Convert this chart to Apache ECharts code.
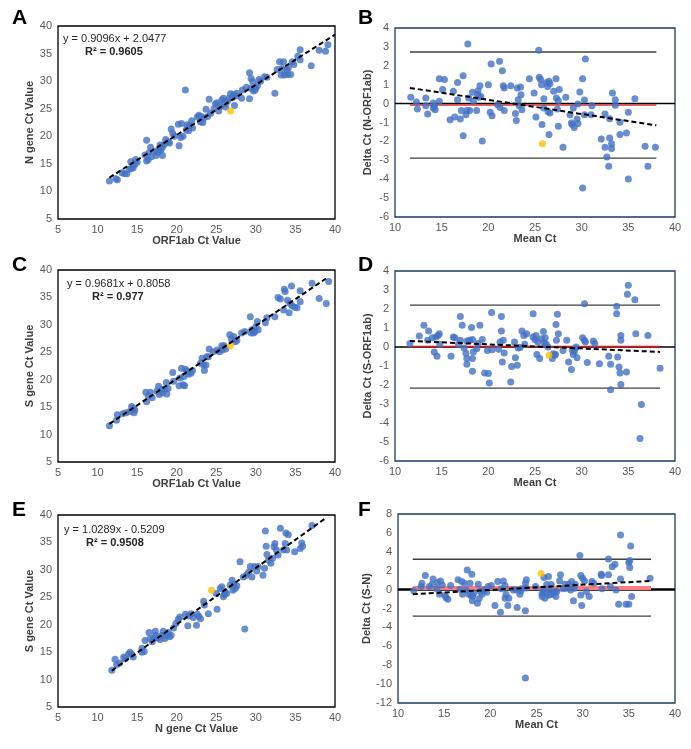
<!DOCTYPE html>
<html>
<head>
<meta charset="utf-8">
<script src="https://cdn.jsdelivr.net/npm/echarts@6/dist/echarts.min.js"></script>
<style>
html,body{margin:0;padding:0;background:#fff;}
#chart{width:691px;height:749px;}
</style>
</head>
<body>
<div id="chart"></div>
<script>
// ---- panel A : N gene vs ORF1ab
var aPts = [[11.5,11.9],[12.3,12.3],[12.5,12.1],[13.1,13.4],[13.4,13.2],[13.7,13.2],[14.0,14.0],[14.2,15.4],[14.3,14.2],[14.5,14.3],[14.7,14.9],[14.8,15.8],[15.0,15.3],[16.0,16.6],[16.2,19.3],[16.2,15.5],[16.4,15.8],[16.5,17.0],[16.7,18.0],[16.8,16.3],[17.2,17.3],[17.4,16.5],[17.6,17.1],[17.8,17.6],[17.9,18.4],[18.0,17.5],[18.2,16.5],[18.2,18.0],[18.4,18.5],[18.6,19.4],[18.9,19.0],[19.1,18.8],[19.3,21.3],[19.5,20.5],[19.7,20.0],[20.2,22.2],[20.3,18.3],[20.5,19.8],[20.6,22.3],[20.8,20.0],[21.1,28.4],[21.2,21.2],[21.3,22.1],[21.5,21.0],[21.6,21.9],[21.9,22.8],[22.0,21.5],[22.6,23.5],[22.8,23.8],[23.0,22.6],[23.1,23.6],[23.3,22.5],[23.4,23.3],[23.7,24.9],[23.9,23.6],[24.1,26.7],[24.3,24.2],[24.7,25.0],[24.9,25.9],[25.1,26.1],[25.3,24.6],[25.5,25.4],[25.7,26.6],[25.9,26.9],[26.0,25.9],[26.2,25.3],[26.4,26.3],[26.6,26.9],[26.8,27.7],[27.0,27.0],[27.2,27.6],[27.3,25.6],[27.5,27.3],[27.6,27.8],[28.2,26.9],[28.3,28.4],[28.8,28.9],[29.2,31.5],[29.2,26.8],[29.4,30.5],[29.4,28.7],[29.6,29.9],[29.7,28.2],[29.9,28.4],[30.0,28.8],[30.2,29.2],[30.4,30.3],[30.6,30.0],[31.1,30.8],[31.4,30.7],[32.4,27.8],[32.7,32.1],[33.0,33.5],[33.2,31.1],[33.3,32.3],[33.5,33.5],[33.6,31.1],[33.9,32.1],[34.0,31.2],[34.1,32.4],[34.4,31.2],[34.6,33.5],[34.8,33.0],[35.3,34.5],[35.6,35.7],[35.6,33.9],[37.0,32.8],[38.0,35.6],[38.8,35.4],[39.1,36.6]];
var aOrange = [[26.8,24.6]];
var aFit = [[11.5,12.51],[40,38.43]];
var aText = ['y = 0.9096x + 2.0477', 'R² = 0.9605'];

// ---- panel B : Bland-Altman N - ORF1ab
var bPts = [[11.7,0.33],[12.3,0.08],[12.4,-0.29],[13.3,0.30],[13.3,-0.11],[13.5,-0.55],[14.1,0.03],[14.1,-0.23],[14.3,-0.32],[14.2,-0.15],[14.75,1.32],[14.75,0.12],[15.1,0.74],[15.3,1.27],[15.9,-0.85],[16.25,0.65],[16.4,-0.71],[16.7,1.12],[16.7,0.2],[17.0,-0.81],[17.1,-0.37],[17.3,1.48],[17.3,-1.7],[17.6,-0.59],[17.7,-0.37],[17.8,3.15],[17.9,0.3],[18.0,-0.37],[18.3,0.6],[18.4,0.12],[18.75,-0.37],[18.85,0.5],[18.9,0.68],[19.0,0.33],[19.1,0.95],[19.2,0.38],[19.35,-1.98],[20.0,1.0],[20.2,-0.46],[20.3,2.1],[20.4,-0.64],[21.0,-0.06],[21.2,2.24],[21.25,-0.2],[21.5,1.74],[21.6,0.95],[21.7,0.83],[21.7,-0.36],[22.4,0.95],[22.9,-0.53],[23.0,-0.89],[23.1,0.83],[23.2,0.2],[23.3,-0.11],[23.45,0.88],[23.5,0.47],[23.6,-0.32],[24.4,1.32],[24.9,0.56],[25.1,-0.71],[25.4,2.82],[25.45,1.39],[25.6,1.27],[25.7,1.0],[25.75,-1.11],[25.95,0.26],[25.95,-0.23],[26.25,1.12],[26.35,0.91],[26.4,-0.43],[26.5,1.18],[26.6,-0.5],[26.6,1.05],[26.5,-1.64],[27.0,0.65],[27.25,1.32],[27.3,0.3],[27.4,-0.29],[27.5,0.15],[27.5,-1.2],[27.6,0.74],[28.0,-2.31],[28.3,0.33],[28.75,-0.59],[28.9,-1.03],[29.0,-1.11],[29.1,-0.23],[29.2,-1.26],[29.5,-0.81],[29.6,-1.05],[29.6,-0.02],[29.8,0.61],[30.1,1.32],[30.1,-4.47],[30.3,0.19],[30.4,2.36],[30.3,-0.59],[31.1,-0.11],[31.0,-0.59],[32.1,-1.87],[32.5,-0.55],[32.5,-2.31],[32.7,-2.83],[32.9,-3.32],[33.0,-0.8],[33.0,-1.82],[33.2,-2.12],[33.2,-2.38],[33.3,0.56],[33.6,0.2],[33.6,-0.09],[34.1,-0.99],[34.1,-1.64],[34.8,-1.56],[35.0,-3.99],[35.0,-0.46],[35.7,0.26],[36.8,-2.26],[37.1,-3.32],[37.9,-2.31]];
var bOrange = [[25.8,-2.12]];
var bFit = [[11.6,0.83],[38.0,-1.15]];
var bLimits = [2.73, -2.88];
var bBias = -0.07;
var bSpan = [11.6, 38.0];

// ---- panel C : S gene vs ORF1ab
var cPts = [[11.5,11.6],[12.4,12.6],[12.5,13.6],[13.2,13.8],[13.6,14.0],[14.1,14.2],[14.3,15.1],[14.5,14.8],[14.6,14.0],[14.7,14.5],[16.1,17.7],[16.2,16.0],[16.4,17.0],[16.65,17.7],[16.9,16.7],[17.5,17.9],[17.7,18.8],[17.8,17.3],[18.1,18.2],[18.2,17.6],[18.5,18.3],[18.75,17.4],[18.9,18.4],[18.7,19.5],[19.5,21.3],[19.6,19.7],[20.3,18.9],[20.4,20.3],[20.6,22.1],[20.8,19.1],[20.9,20.6],[21.0,18.9],[21.1,21.9],[21.3,21.6],[21.5,21.0],[21.8,21.2],[22.0,21.7],[23.0,23.0],[23.2,23.9],[23.4,22.7],[23.5,21.7],[23.7,22.7],[23.8,24.2],[24.1,25.6],[24.0,24.2],[24.6,25.1],[25.1,25.4],[25.4,25.1],[25.7,26.2],[25.8,25.4],[26.0,26.2],[26.2,25.6],[26.7,28.2],[26.9,27.4],[27.2,27.9],[27.4,26.9],[27.6,27.2],[28.2,28.5],[28.6,28.8],[29.3,31.5],[29.4,28.5],[29.5,29.1],[29.7,28.5],[29.9,28.8],[30.0,29.7],[30.2,30.6],[30.3,29.1],[31.2,30.4],[31.4,31.3],[32.4,31.5],[32.8,35.0],[33.1,34.7],[33.5,32.7],[33.6,36.5],[33.7,36.1],[34.0,34.5],[34.2,32.2],[34.3,33.9],[34.5,37.1],[34.6,33.5],[34.9,33.2],[35.2,33.1],[35.6,36.2],[35.6,34.2],[37.1,37.6],[38.0,34.8],[38.9,33.9],[39.2,37.9]];
var cOrange = [[26.8,26.2]];
var cFit = [[11.5,11.94],[39.2,38.76]];
var cText = ['y = 0.9681x + 0.8058', 'R² = 0.977'];

// ---- panel D : Bland-Altman S - ORF1ab
var dPts = [[11.6,0.18],[12.6,0.58],[13.1,1.14],[13.5,0.35],[13.6,0.84],[14.0,0.49],[14.2,-0.26],[14.4,0.53],[14.5,-0.49],[14.6,0.6],[14.75,0.70],[14.8,0.14],[16.0,-0.49],[16.25,0.53],[16.4,0.49],[16.8,0.14],[17.0,0.35],[17.0,1.61],[17.2,1.14],[17.4,-0.05],[17.6,-0.33],[17.7,-0.91],[17.7,-0.61],[17.7,0.32],[18.0,0.35],[18.2,1.02],[18.3,-1.28],[18.3,-0.61],[18.4,-0.26],[18.3,0.39],[18.75,-0.09],[18.9,0.18],[19.1,1.14],[19.35,0.39],[19.6,-1.37],[19.9,-0.18],[20.0,-1.4],[20.1,-1.9],[20.4,-0.14],[20.35,1.81],[21.1,-0.12],[21.25,0.26],[21.4,1.61],[21.4,0.84],[21.5,-0.79],[21.6,0.35],[21.7,-0.32],[22.4,-1.84],[22.5,-1.02],[22.8,0.26],[22.9,-0.56],[23.1,-0.96],[23.2,-0.05],[23.4,-0.02],[23.6,0.84],[23.8,0.61],[23.9,0.14],[24.1,0.7],[24.8,1.75],[24.8,0.53],[25.0,0.39],[25.1,0.61],[25.2,-0.39],[25.3,0.26],[25.5,-0.61],[25.7,0.44],[25.9,0.82],[26.0,0.21],[26.1,0.49],[26.2,0.14],[26.4,0.0],[26.85,-0.61],[26.96,-0.35],[27.1,-0.44],[27.2,-0.39],[27.25,1.19],[27.3,0.35],[27.4,1.72],[27.5,0.70],[28.0,-0.18],[28.4,0.35],[28.6,-0.79],[28.9,-1.19],[29.0,-0.18],[29.1,-0.39],[29.2,-0.26],[29.3,-0.09],[29.4,0.0],[29.5,-0.56],[30.1,0.49],[30.3,2.28],[30.3,0.35],[30.4,0.26],[30.6,-0.82],[31.25,0.32],[31.4,0.18],[31.9,-0.88],[32.9,-0.49],[33.1,-0.91],[33.1,-2.25],[33.75,2.14],[33.75,1.75],[33.85,-0.53],[34.0,-1.05],[34.1,-1.37],[34.2,-1.98],[34.2,0.35],[34.2,0.61],[34.8,-1.32],[34.9,2.77],[35.0,3.25],[35.7,2.49],[35.8,0.70],[36.4,-3.02],[36.25,-4.82],[37.1,0.61],[38.4,-1.12]];
var dOrange = [[26.5,-0.44]];
var dFit = [[11.6,0.32],[38.4,-0.26]];
var dLimits = [2.2, -2.16];
var dBias = 0.03;
var dSpan = [11.6, 38.4];

// ---- panel E : S gene vs N gene
var ePts = [[11.8,11.7],[12.2,13.7],[12.4,12.7],[12.8,13.0],[13.3,14.1],[13.5,13.8],[13.9,14.6],[14.1,15.0],[14.3,14.6],[14.5,14.1],[15.6,15.7],[15.6,15.0],[15.9,15.1],[16.0,17.1],[16.5,18.6],[16.65,17.5],[16.9,16.9],[17.1,17.5],[17.3,18.8],[17.3,18.1],[17.6,17.6],[17.9,17.3],[18.1,18.1],[18.3,18.8],[18.5,17.5],[18.7,18.1],[18.9,18.6],[19.1,17.8],[19.3,18.1],[19.6,19.4],[19.9,20.2],[20.2,21.0],[20.4,21.4],[21.1,21.9],[21.4,19.8],[21.5,21.6],[21.8,22.0],[22.1,21.3],[22.5,19.9],[22.6,21.9],[22.8,21.5],[23.0,21.1],[23.4,24.3],[23.5,23.6],[24.0,22.0],[25.1,22.8],[25.0,25.7],[25.5,26.6],[25.7,26.9],[25.9,25.1],[26.0,25.5],[26.1,26.0],[26.3,25.7],[26.75,27.2],[27.0,28.1],[27.1,26.3],[27.2,27.3],[27.4,26.6],[27.6,27.1],[28.0,31.5],[28.4,28.7],[28.6,19.2],[28.8,29.0],[29.1,29.6],[29.3,30.6],[29.5,28.7],[29.8,30.6],[30.1,29.8],[30.3,30.6],[30.9,29.0],[31.1,30.3],[31.2,37.1],[31.3,34.3],[31.4,32.8],[31.6,31.8],[31.9,31.2],[32.1,32.1],[32.3,34.2],[32.4,34.8],[32.6,33.6],[32.8,32.7],[33.1,37.6],[33.5,33.6],[33.7,34.8],[33.8,36.7],[34.1,36.4],[33.9,33.6],[34.9,33.3],[35.6,33.9],[35.8,34.9],[35.9,34.3],[37.1,38.1]];
var eOrange = [[24.4,26.3]];
var eFit = [[11.8,11.62],[38.7,39.3]];
var eText = ['y = 1.0289x - 0.5209', 'R² = 0.9508'];

// ---- panel F : Bland-Altman S - N
var fPts = [[11.7,-0.13],[12.5,0.32],[12.6,0.68],[12.96,1.49],[13.4,0.32],[13.7,0.57],[13.8,1.13],[14.2,0.08],[14.3,0.75],[14.5,-0.49],[14.6,0.92],[14.8,0.5],[15.1,-0.63],[15.2,-0.84],[15.4,-1.01],[15.7,0.43],[16.5,1.03],[16.7,0.05],[16.9,0.85],[17.0,-0.49],[17.2,0.68],[17.4,-0.03],[17.5,2.08],[17.7,-0.49],[17.8,0.68],[17.9,-0.63],[18.0,1.63],[18.06,-1.19],[18.1,-0.7],[18.2,-0.35],[18.6,-1.44],[18.7,0.57],[18.8,-0.95],[18.9,-0.18],[19.1,-0.49],[19.3,-0.03],[19.6,-0.27],[19.75,0.32],[20.1,0.43],[20.5,-1.68],[20.8,0.85],[21.1,-2.39],[21.2,0.08],[21.4,0.92],[21.6,0.43],[21.6,-0.91],[21.7,-0.49],[21.9,-1.68],[22.0,-0.91],[22.5,-0.03],[22.8,-0.03],[22.9,-1.89],[23.2,-0.49],[23.3,-0.13],[23.4,0.08],[23.8,0.68],[23.8,-2.25],[23.9,1.03],[23.8,-9.36],[23.9,0.18],[24.9,0.32],[25.6,-0.45],[25.6,-0.73],[25.7,-0.03],[25.8,1.27],[25.9,-0.25],[25.9,-0.91],[26.1,0.53],[26.3,1.38],[26.3,-0.59],[26.4,-0.03],[26.5,-0.49],[26.6,0.53],[26.8,-0.49],[27.0,-0.2],[27.1,-0.73],[27.2,-0.2],[27.5,0.92],[27.6,1.56],[27.9,0.1],[28.1,0.57],[28.3,0.15],[28.5,0.57],[28.7,-0.03],[28.8,0.85],[29.0,-1.19],[29.1,0.15],[29.2,0.57],[29.7,3.6],[29.8,1.49],[29.8,-0.56],[29.9,-1.68],[30.0,1.2],[30.2,0.92],[30.4,-0.2],[30.7,-0.73],[31.0,0.85],[31.2,0.68],[32.0,1.63],[32.05,1.49],[32.1,0.08],[32.8,3.25],[32.8,1.56],[33.0,0.32],[33.2,2.43],[33.5,2.68],[33.6,-0.03],[33.9,-1.54],[34.1,5.78],[34.1,1.13],[34.7,-1.54],[35.0,-1.54],[35.0,2.86],[35.1,3.07],[35.1,2.33],[35.2,4.62],[35.3,-0.73],[37.3,1.2]];
var fOrange = [[25.5,1.7]];
var fFit = [[11.6,-0.49],[37.4,0.92]];
var fLimits = [3.21, -2.81];
var fBias = 0.18;
var fSpan = [11.6, 37.4];

var labels = ['A', 'B', 'C', 'D', 'E', 'F'];
var xNames = ['ORF1ab Ct Value', 'Mean Ct', 'ORF1ab Ct Value', 'Mean Ct', 'N gene Ct Value', 'Mean Ct'];
var yNames = ['N gene Ct Value', 'Delta Ct (N-ORF1ab)', 'S gene Ct Value', 'Delta Ct (S-ORF1ab)', 'S gene Ct Value', 'Delta Ct (S-N)'];

var blue = '#4472C4', orange = '#FFC000', navy = '#1F3864';
var font = 'Liberation Sans, Arial, sans-serif';

var grids = [
    {left: 58, top: 26, width: 277, height: 193},
    {left: 395, top: 28, width: 280, height: 189},
    {left: 58, top: 270, width: 277, height: 192},
    {left: 395, top: 271, width: 280, height: 190},
    {left: 58, top: 515, width: 277, height: 192},
    {left: 398, top: 514, width: 277, height: 189}
];
var yRanges = [[5, 40, 5], [-6, 4, 1], [5, 40, 5], [-6, 4, 1], [5, 40, 5], [-12, 8, 2]];
var xRanges = [[5, 40, 5], [10, 40, 5], [5, 40, 5], [10, 40, 5], [5, 40, 5], [10, 40, 5]];

var chart = echarts.init(document.getElementById('chart'));

var gridOpt = [], xAxes = [], yAxes = [], series = [], graphics = [];
for (var i = 0; i < 6; i++) {
    var g = grids[i];
    var isBA = (i % 2 == 1);
    gridOpt.push({left: g.left, top: g.top, width: g.width, height: g.height, show: true,
        borderColor: isBA ? navy : '#000', borderWidth: 1.3, backgroundColor: 'transparent'});
    xAxes.push({gridIndex: i, type: 'value', min: xRanges[i][0], max: xRanges[i][1], interval: xRanges[i][2],
        name: xNames[i], nameLocation: 'middle', nameGap: 15,
        nameTextStyle: {fontFamily: font, fontSize: 11, fontWeight: 'bold', color: '#404040'},
        axisLine: {show: false}, axisTick: {show: false}, splitLine: {show: false},
        axisLabel: {fontFamily: font, fontSize: 11, color: '#595959', margin: 5}});
    yAxes.push({gridIndex: i, type: 'value', min: yRanges[i][0], max: yRanges[i][1], interval: yRanges[i][2],
        name: yNames[i], nameLocation: 'middle', nameGap: 22, nameRotate: 90,
        nameTextStyle: {fontFamily: font, fontSize: 11, fontWeight: 'bold', color: '#404040'},
        axisLine: {show: false}, axisTick: {show: false}, splitLine: {show: false},
        axisLabel: {fontFamily: font, fontSize: 11, color: '#595959', margin: 6}});
    graphics.push({type: 'text', left: (i % 2 == 0) ? 12 : 358, top: [8, 8, 255, 255, 500, 500][i],
        style: {text: labels[i], font: 'bold 21px ' + font, fill: '#000'}});
}

function hline(idx, span, v, color, width) {
    return {type: 'line', xAxisIndex: idx, yAxisIndex: idx, data: [[span[0], v], [span[1], v]],
        symbol: 'none', silent: true, lineStyle: {color: color, width: width}, z: 2};
}
function pts(idx, data, color) {
    return {type: 'scatter', xAxisIndex: idx, yAxisIndex: idx, data: data, symbolSize: 7,
        silent: true, itemStyle: {color: color}, z: 3};
}
function fit(idx, data) {
    return {type: 'line', xAxisIndex: idx, yAxisIndex: idx, data: data, symbol: 'none', silent: true,
        lineStyle: {color: '#000', width: 2, type: [5, 3]}, z: 4};
}

// correlation panels
var corr = [[0, aPts, aOrange, aFit, aText, [63, 33], [85, 46]],
            [2, cPts, cOrange, cFit, cText, [67, 278], [92, 291]],
            [4, ePts, eOrange, eFit, eText, [64, 524], [86, 537]]];
corr.forEach(function (c) {
    series.push(pts(c[0], c[1], blue));
    series.push(pts(c[0], c[2], orange));
    series.push(fit(c[0], c[3]));
    graphics.push({type: 'text', left: c[5][0], top: c[5][1],
        style: {text: c[4][0], font: '11px ' + font, fill: '#262626'}});
    graphics.push({type: 'text', left: c[6][0], top: c[6][1],
        style: {text: c[4][1], font: 'bold 11px ' + font, fill: '#262626'}});
});

// Bland-Altman panels
var ba = [[1, bPts, bOrange, bFit, bLimits, bBias, bSpan, '#E03030', 1.5, 1.5],
          [3, dPts, dOrange, dFit, dLimits, dBias, dSpan, '#E81010', 1.5, 1.5],
          [5, fPts, fOrange, fFit, fLimits, fBias, fSpan, '#FF7C80', 4, 2.5]];
ba.forEach(function (b) {
    var idx = b[0];
    series.push(hline(idx, b[6], b[4][0], '#3F3F3F', 1.3));
    series.push(hline(idx, b[6], b[4][1], '#3F3F3F', 1.3));
    series.push(hline(idx, [xRanges[idx][0], xRanges[idx][1]], 0, '#000', b[9]));
    series.push(hline(idx, b[6], b[5], b[7], b[8]));
    series.push(pts(idx, b[1], blue));
    series.push(pts(idx, b[2], orange));
    series.push(fit(idx, b[3]));
});

chart.setOption({
    animation: false,
    grid: gridOpt,
    xAxis: xAxes,
    yAxis: yAxes,
    series: series,
    graphic: graphics
});
</script>
</body>
</html>
